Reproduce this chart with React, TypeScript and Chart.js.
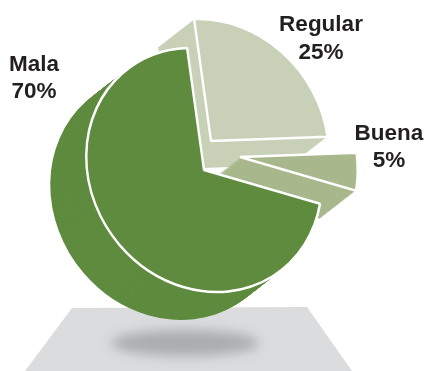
import React, { useEffect, useRef } from "react";
import Chart from "chart.js/auto";

// Survey result shares, drawn clockwise starting at Mala.
const categories = ["Mala", "Regular", "Buena"];
const shares = [70, 25, 5];
const sliceColors = ["#5E8B3E", "#C8D1B7", "#A8B88C"];

const WIDTH = 425;
const HEIGHT = 371;
const INK = "#231F20";
const LABEL_FONT = "bold 22.5px 'Liberation Sans', Arial, sans-serif";

// Projection of the tilted pie: scale and shear terms, then extrusion depth.
const SCALE_X = 0.965;
const SCALE_Y = 1.01;
const SHEAR_X = 0.14;
const SHEAR_Y = -0.035;
const DEPTH_X = -36;
const DEPTH_Y = 28;
const DEPTH_STEPS = 40;

// Pull-out of each slice on screen, in the order of the categories.
const sliceShiftX = [1, 8, 37];
const sliceShiftY = [0, -29, -13];

// Painter's order: light slices first, the large one in front.
const paintOrder = [1, 2, 0];

// Label anchors: centre x and the baselines of the two lines.
const labelX = [34, 321, 389];
const nameY = [71, 31, 140];
const shareY = [98, 59, 167];

const floorPlane = (ctx: CanvasRenderingContext2D) => {
  ctx.save();
  ctx.fillStyle = "#DBDCDE";
  ctx.beginPath();
  ctx.moveTo(72, 308);
  ctx.lineTo(307, 307);
  ctx.lineTo(352, 371);
  ctx.lineTo(25, 371);
  ctx.closePath();
  ctx.fill();

  // Soft contact shadow under the pie.
  ctx.beginPath();
  ctx.rect(0, 300, WIDTH, 71);
  ctx.clip();
  ctx.filter = "blur(6px)";
  ctx.fillStyle = "#ABACB0";
  ctx.beginPath();
  ctx.ellipse(185, 343, 74, 13, 0, 0, Math.PI * 2);
  ctx.fill();
  ctx.restore();
};

const tiltedPie = {
  id: "tiltedPie",
  beforeDraw(chart: any) {
    floorPlane(chart.ctx);
  },
  beforeDatasetsDraw(chart: any) {
    const ctx = chart.ctx;
    const arcs = chart.getDatasetMeta(0).data;
    for (const i of paintOrder) {
      const arc = arcs[i];
      const face = arc.options;
      const place = (dx: number, dy: number) => {
        ctx.save();
        ctx.translate(arc.x + sliceShiftX[i] + dx, arc.y + sliceShiftY[i] + dy);
        ctx.transform(SCALE_X, SHEAR_Y, SHEAR_X, SCALE_Y, 0, 0);
        ctx.translate(-arc.x, -arc.y);
      };
      // Side wall: the same slice repeated back along the depth direction.
      arc.options = { ...face, borderWidth: 0 };
      for (let s = DEPTH_STEPS; s >= 1; s--) {
        place((DEPTH_X * s) / DEPTH_STEPS, (DEPTH_Y * s) / DEPTH_STEPS);
        arc.draw(ctx);
        ctx.restore();
      }
      arc.options = face;
      // Front face with its white outline.
      place(0, 0);
      arc.draw(ctx);
      ctx.restore();
    }
    return false;
  },
  afterDraw(chart: any) {
    const ctx = chart.ctx;
    ctx.save();
    ctx.font = LABEL_FONT;
    ctx.fillStyle = INK;
    ctx.textAlign = "center";
    ctx.textBaseline = "alphabetic";
    categories.forEach((name, i) => {
      ctx.fillText(name, labelX[i], nameY[i]);
      ctx.fillText(`${shares[i]}%`, labelX[i], shareY[i]);
    });
    ctx.restore();
  },
};

export default function App() {
  const ref = useRef<HTMLCanvasElement>(null);
  useEffect(() => {
    const chart = new Chart(ref.current!, {
      type: "pie",
      data: {
        labels: categories,
        datasets: [
          {
            data: shares,
            backgroundColor: sliceColors,
            borderColor: "#FFFFFF",
            borderWidth: 2.5,
            hoverOffset: 0,
          },
        ],
      },
      options: {
        responsive: false,
        animation: false,
        rotation: 108,
        layout: { padding: { left: 81, right: 100, top: 48, bottom: 79 } },
        plugins: { legend: { display: false }, tooltip: { enabled: false } },
      },
      plugins: [tiltedPie],
    });
    return () => chart.destroy();
  }, []);
  return (
    <canvas
      ref={ref}
      width={WIDTH}
      height={HEIGHT}
      style={{ position: "absolute", left: 0, top: 0, display: "block" }}
    />
  );
}
